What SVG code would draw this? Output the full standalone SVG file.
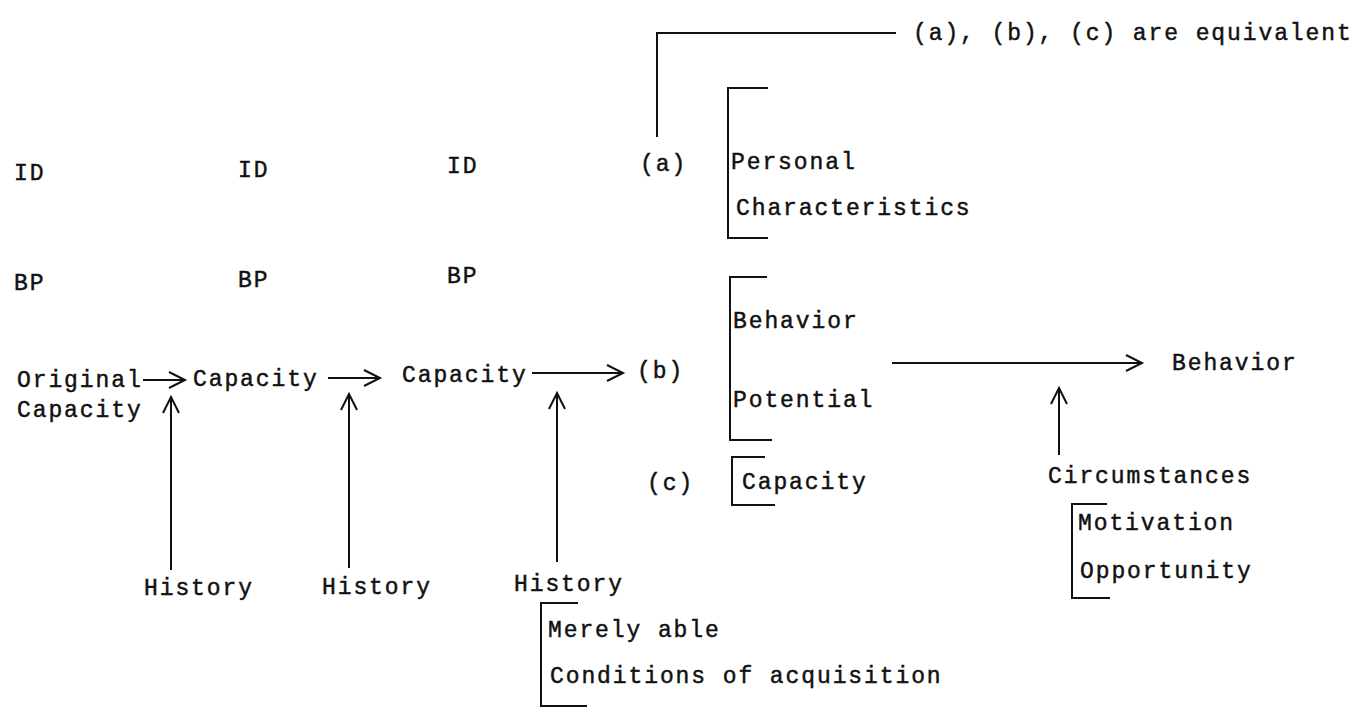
<svg xmlns="http://www.w3.org/2000/svg" width="1366" height="708" viewBox="0 0 1366 708">
<style>
text{font-family:"Liberation Mono","DejaVu Sans Mono",monospace;font-size:23px;letter-spacing:1.9px;fill:#111;stroke:#111;stroke-width:0.45}
.br{fill:none;stroke:#111;stroke-width:2}
.ar{fill:none;stroke:#111;stroke-width:2;marker-end:url(#ah)}
</style>
<defs>
<marker id="ah" markerUnits="userSpaceOnUse" markerWidth="22" markerHeight="22" refX="18" refY="10" orient="auto">
<path d="M2,2 L18,10 L2,18" fill="none" stroke="#111" stroke-width="2"/>
</marker>
</defs>
<rect width="1366" height="708" fill="#fff"/>
<g id="equivalent"><text x="913" y="40">(a), (b), (c) are equivalent</text><path class="br" d="M896,33 H657 V137"/></g>
<g id="label-a"><text x="640" y="171">(a)</text></g>
<g id="id1"><text x="14" y="180">ID</text></g>
<g id="id2"><text x="238" y="177">ID</text></g>
<g id="id3"><text x="447" y="173">ID</text></g>
<g id="bp1"><text x="14" y="290">BP</text></g>
<g id="bp2"><text x="238" y="287">BP</text></g>
<g id="bp3"><text x="447" y="283">BP</text></g>
<g id="personal"><path class="br" d="M768,88 H728 V238 H768"/><text x="731" y="169">Personal</text><text x="736" y="215">Characteristics</text></g>
<g id="behavior-potential"><path class="br" d="M767,277 H730 V440 H772"/><text x="733" y="328">Behavior</text><text x="733" y="407">Potential</text></g>
<g id="original"><text x="17" y="387">Original</text><text x="17" y="417">Capacity</text></g>
<g id="capacity1"><text x="193" y="386">Capacity</text></g>
<g id="capacity2"><text x="402" y="382">Capacity</text></g>
<g id="label-b"><text x="637" y="378">(b)</text></g>
<g id="label-c"><text x="647" y="490">(c)</text></g>
<g id="capacity-c"><path class="br" d="M765,457 H732 V505 H775"/><text x="742" y="489">Capacity</text></g>
<g id="behavior"><text x="1172" y="370">Behavior</text></g>
<g id="circumstances"><text x="1048" y="483">Circumstances</text><path class="br" d="M1107,504 H1072 V598 H1110"/><text x="1078" y="530">Motivation</text><text x="1080" y="578">Opportunity</text></g>
<g id="history1"><text x="144" y="595">History</text></g>
<g id="history2"><text x="322" y="594">History</text></g>
<g id="history3"><text x="514" y="591">History</text><path class="br" d="M578,603 H541 V706 H587"/><text x="548" y="637">Merely able</text><text x="550" y="683">Conditions of acquisition</text></g>
<g id="connectors">
<path class="ar" d="M143,380 H185"/>
<path class="ar" d="M328,378 H380"/>
<path class="ar" d="M532,373 H623"/>
<path class="ar" d="M892,363 H1142"/>
<path class="ar" d="M171,570 V397"/>
<path class="ar" d="M349,568 V394"/>
<path class="ar" d="M557,562 V393"/>
<path class="ar" d="M1059,455 V388"/>
</g>
</svg>
